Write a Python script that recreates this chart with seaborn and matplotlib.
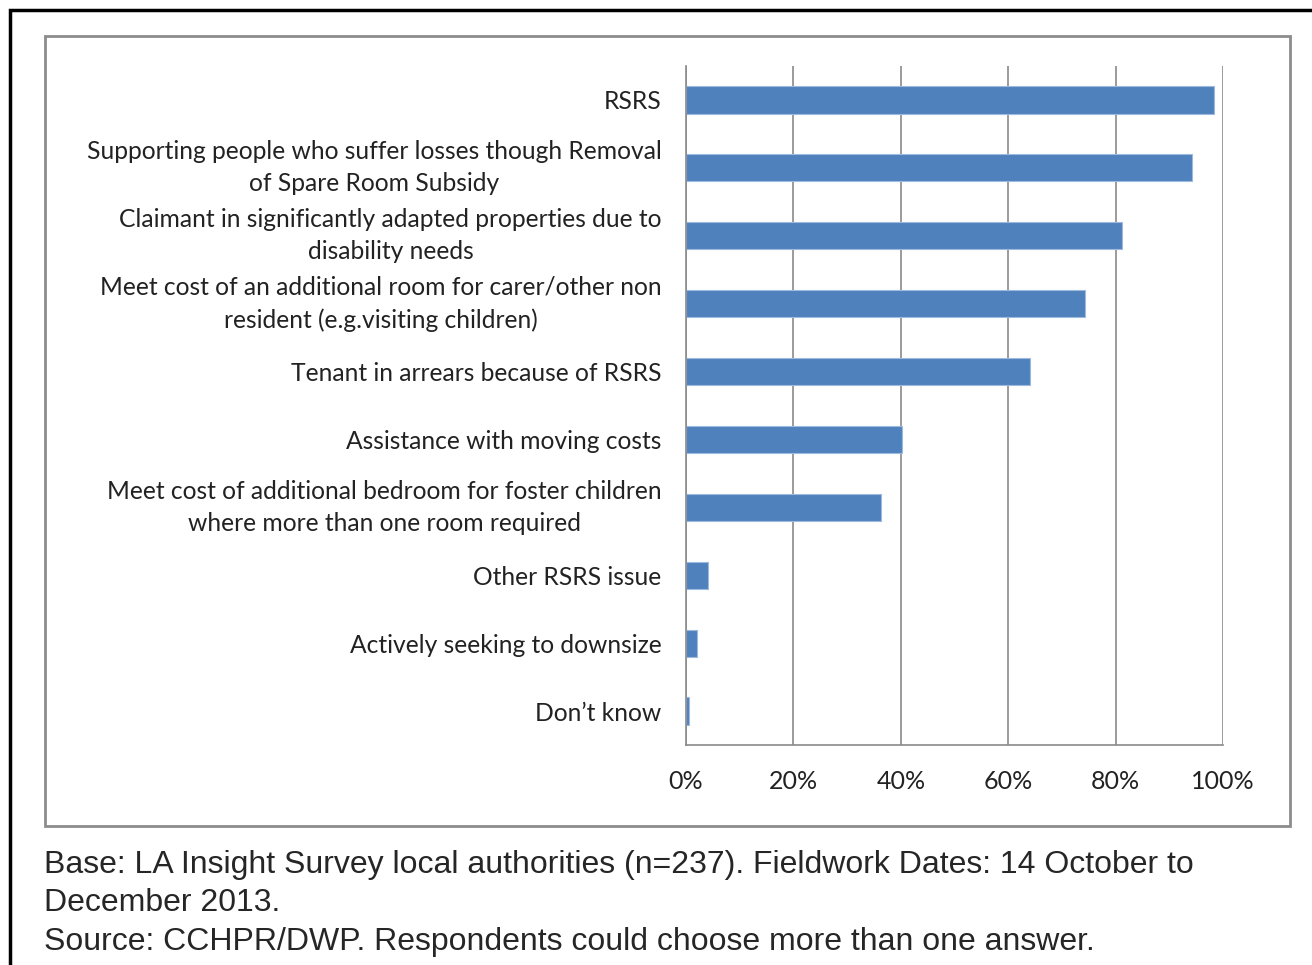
"""
Support priorities chart: share of local authorities naming each RSRS issue
"""
import matplotlib
matplotlib.use("Agg")
import matplotlib.pyplot as plt
import matplotlib.ticker as mtick
from matplotlib.patches import Rectangle
import numpy as np
import pandas as pd
import seaborn as sns

# ── Data ──────────────────────────────────────────────────────────────────────
categories = [
    "RSRS",
    "Supporting people who suffer losses though Removal\nof Spare Room Subsidy",
    "Claimant in significantly adapted properties due to\ndisability needs",
    "Meet cost of an additional room for carer/other non\nresident (e.g.visiting children)",
    "Tenant in arrears because of RSRS",
    "Assistance with moving costs",
    "Meet cost of additional bedroom for foster children\nwhere more than one room required",
    "Other RSRS issue",
    "Actively seeking to downsize",
    "Don\u2019t know",
]
shares = [0.983, 0.942, 0.812, 0.743, 0.641, 0.402, 0.363, 0.041, 0.021, 0.006]
x_ticks = [0, 0.2, 0.4, 0.6, 0.8, 1.0]

footer = (
    "Base: LA Insight Survey local authorities (n=237). Fieldwork Dates: 14 October to\n"
    "December 2013.\n"
    "Source: CCHPR/DWP. Respondents could choose more than one answer."
)

df = pd.DataFrame({"category": categories, "share": shares})

# ── Style ─────────────────────────────────────────────────────────────────────
sns.set_style("white")
plt.rcParams["font.family"] = ["Lato", "DejaVu Sans"]

BAR = "#4F81BD"
GRID = "#8A8A8A"

fig = plt.figure(figsize=(13.12, 9.65), dpi=100)
ax = fig.add_axes([686 / 1312, 1 - 745 / 965, (1223 - 686) / 1312, (745 - 66) / 965])

sns.barplot(data=df, x="share", y="category", orient="h", color=BAR,
            saturation=1, width=0.4, edgecolor="#9DB9DE", linewidth=0.8, ax=ax)

ax.set_xlim(0, 1)
ax.set_ylim(len(categories) - 0.5, -0.5)
ax.set_xticks(x_ticks)
ax.xaxis.set_major_formatter(mtick.PercentFormatter(xmax=1, decimals=0))
ax.set_xlabel("")
ax.set_ylabel("")

# gridlines behind bars
ax.set_axisbelow(True)
ax.grid(axis="x", color=GRID, linewidth=1.2)
ax.grid(axis="y", visible=False)

for side in ["top", "right"]:
    ax.spines[side].set_visible(False)
for side in ["left", "bottom"]:
    ax.spines[side].set_color(GRID)
    ax.spines[side].set_linewidth(1.2)

# category boundary ticks on the y axis, labels at centres
ax.set_yticks(np.arange(-0.5, len(categories), 1), minor=True)
ax.tick_params(axis="y", which="minor", length=6, color=GRID, width=1.2, direction="out")
ax.tick_params(axis="y", which="major", length=0, pad=17.5, labelsize=17.7, labelcolor="#222222")
for lbl in ax.get_yticklabels():
    lbl.set_multialignment("center")
    if "\n" in lbl.get_text():
        lbl.set_linespacing(1.47)
        lbl.set_verticalalignment("center")
ax.tick_params(axis="x", which="major", length=6, color=GRID, width=1.2,
               direction="out", pad=12, labelsize=18, labelcolor="#222222")

# chart frame and outer border
fig.patches.append(Rectangle((45 / 1312, 1 - 826 / 965), (1290 - 45) / 1312, (826 - 36) / 965,
                             transform=fig.transFigure, fill=False,
                             edgecolor="#8C8C8C", linewidth=2))
fig.patches.append(Rectangle((10 / 1312, -0.05), 1.1, 1 - 10 / 965 + 0.05,
                             transform=fig.transFigure, fill=False,
                             edgecolor="black", linewidth=2.5))

fig.text(44 / 1312, 1 - 850 / 965, footer, ha="left", va="top",
         fontsize=23, family=["Liberation Sans", "DejaVu Sans"], linespacing=1.36)

fig.savefig("out.png", dpi=100)
